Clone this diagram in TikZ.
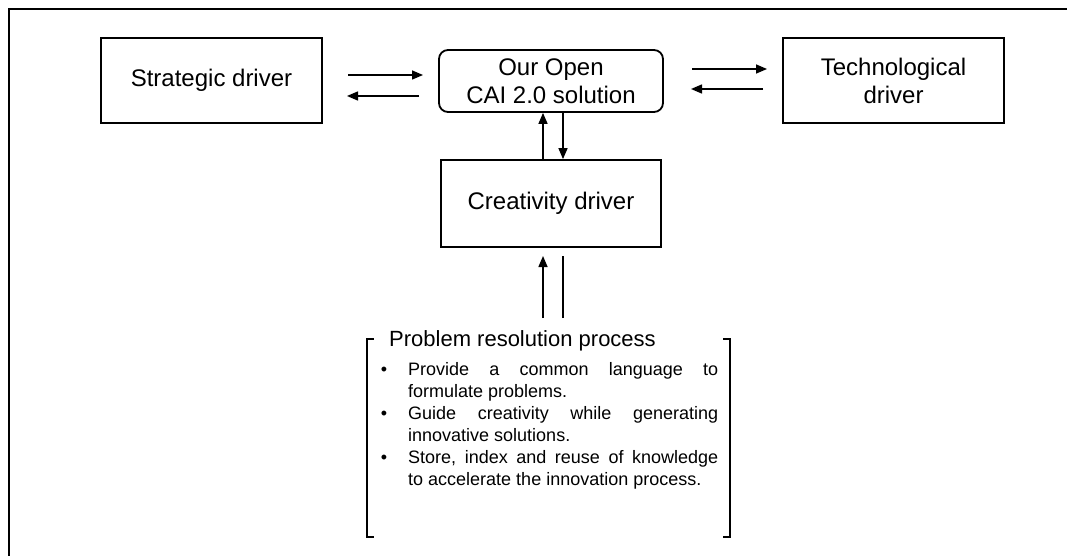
\documentclass[tikz,border=0pt]{standalone}
\usepackage{fontspec}
\setmainfont{Liberation Sans}
\usetikzlibrary{arrows.meta,calc}
\begin{document}
\begin{tikzpicture}[x=1pt,y=-1pt,
  box/.style={draw, line width=1.8pt, minimum width=221pt, minimum height=85pt, inner sep=0pt, align=center, font=\fontsize{24}{28}\selectfont},
  arr/.style={line width=1.5pt, -{Triangle[length=11pt,width=9pt]}},
  ln/.style={line width=1.5pt},
  brk/.style={line width=1.8pt},
  body/.style={anchor=base west, inner sep=0pt, font=\fontsize{18}{22}\selectfont},
  bul/.style={anchor=base, inner sep=0pt, font=\fontsize{18}{22}\selectfont}]
\useasboundingbox (0,0) rectangle (1067,556);
\clip (0,0) rectangle (1067,556);
% outer frame (cut by the page edge)
\draw[line width=2pt] (9,9) rectangle (1080,570);

% main boxes
\node[box] (S) at (211.5,80.5) {Strategic driver};
\node[box, rounded corners=9pt, minimum width=224pt, minimum height=62pt] (C) at (551,81) {Our Open\\CAI 2.0 solution};
\node[box] (T) at (893.5,80.5) {Technological\\driver};
\node[box, minimum width=220pt, minimum height=87pt] (Cr) at (551,203.5) {Creativity driver};

% horizontal arrow pairs
\coordinate (sa1) at (348,75);  \coordinate (sa2) at (423,75);
\coordinate (sb1) at (419,96);  \coordinate (sb2) at (347,96);
\draw[arr] (sa1) -- (sa2);
\draw[arr] (sb1) -- (sb2);
\coordinate (ta1) at (692,69);  \coordinate (ta2) at (767,69);
\coordinate (tb1) at (763,89);  \coordinate (tb2) at (691,89);
\draw[arr] (ta1) -- (ta2);
\draw[arr] (tb1) -- (tb2);

% vertical arrows between solution and creativity
\draw[arr] ([xshift=-8pt]Cr.north) -- ([xshift=-8pt]C.south);
\draw[arr] ([xshift=12pt]C.south) -- ([xshift=12pt]Cr.north);

% lines from problem resolution process
\coordinate (pu1) at (543,318); \coordinate (pu2) at (543,256);
\coordinate (pl1) at (563,318); \coordinate (pl2) at (563,256);
\draw[arr] (pu1) -- (pu2);
\draw[ln] (pl1) -- (pl2);

% bracket box
\node[minimum width=363pt, minimum height=198pt, inner sep=0pt] (P) at (548.5,438) {};
\draw[brk] ([xshift=7pt]P.north west) -- (P.north west) -- (P.south west) -- ([xshift=7pt]P.south west);
\draw[brk] ([xshift=-7pt]P.north east) -- (P.north east) -- (P.south east) -- ([xshift=-7pt]P.south east);

\node[anchor=base west, inner sep=0pt, font=\fontsize{22}{26}\selectfont] (title) at (389,346) {Problem resolution process};

\node[bul] (b1) at (384,375) {•};
\node[bul] (b2) at (384,419) {•};
\node[bul] (b3) at (384,463) {•};
\node[body] (l1) at (408,375) {\hbox to 310pt{Provide\hfill a\hfill common\hfill language\hfill to}};
\node[body] (l2) at (408,397) {formulate problems.};
\node[body] (l3) at (408,419) {\hbox to 310pt{Guide\hfill creativity\hfill while\hfill generating}};
\node[body] (l4) at (408,441) {innovative solutions.};
\node[body] (l5) at (408,463) {\hbox to 310pt{Store,\hfill index\hfill and\hfill reuse\hfill of\hfill knowledge}};
\node[body] (l6) at (408,485) {to accelerate the innovation process.};
\end{tikzpicture}
\end{document}
